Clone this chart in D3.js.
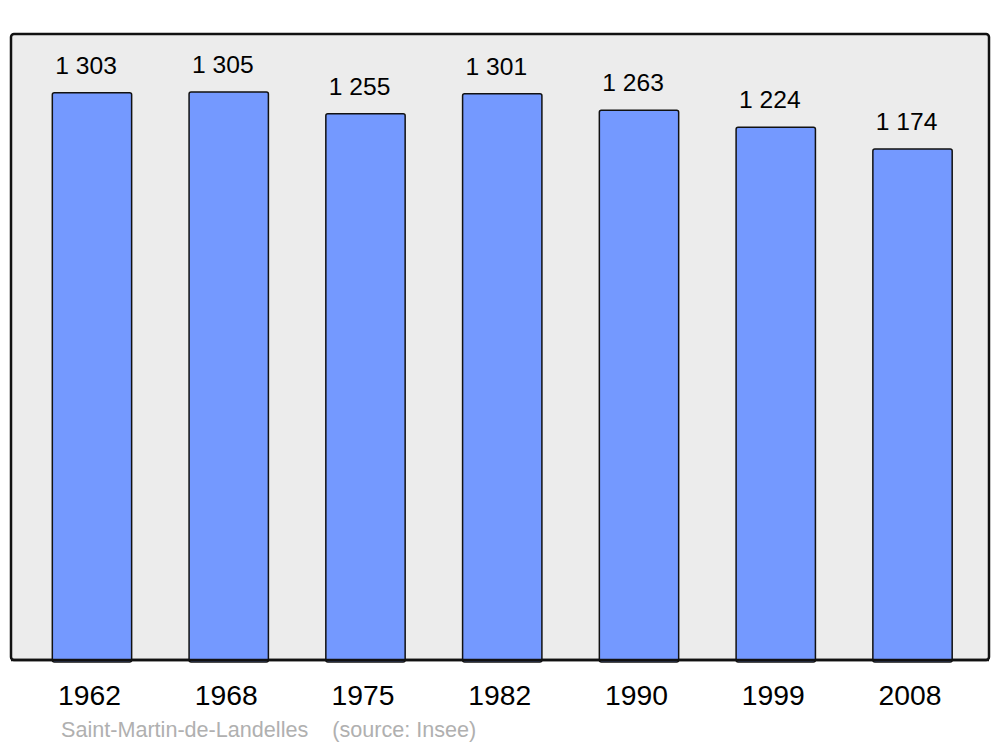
<!DOCTYPE html>
<html>
<head>
<meta charset="utf-8">
<script src="https://cdn.jsdelivr.net/npm/d3@7"></script>
<style>
  body { margin: 0; background: #fff; }
  svg { display: block; font-family: "Liberation Sans", Arial, sans-serif; }
</style>
</head>
<body>
<div id="chart-area"></div>
<script>
// Population data
const years = ["1962", "1968", "1975", "1982", "1990", "1999", "2008"];
const population = [1303, 1305, 1255, 1301, 1263, 1224, 1174];
const valueLabels = ["1 303", "1 305", "1 255", "1 301", "1 263", "1 224", "1 174"];
const footerText = "Saint-Martin-de-Landelles\u00a0\u00a0\u00a0\u00a0(source: Insee)";

const W = 1000, H = 747;
const panel = { left: 11, right: 989, top: 34, bottom: 660 };

const svg = d3.select("#chart-area").append("svg")
  .attr("width", W)
  .attr("height", H);

// Scales
const x = d3.scaleBand()
  .domain(years)
  .range([23.6, 980.9])
  .paddingInner(0.42)
  .paddingOuter(0.21);

const y = d3.scaleLinear()
  .domain([0, 1438])
  .range([panel.bottom, panel.top]);

// Background panel
svg.append("rect")
  .attr("x", panel.left)
  .attr("y", panel.top)
  .attr("width", panel.right - panel.left)
  .attr("height", panel.bottom - panel.top)
  .attr("rx", 3)
  .attr("fill", "#ececec")
  .attr("stroke", "#111")
  .attr("stroke-width", 2.5);

// Bars
svg.selectAll(".bar")
  .data(years)
  .enter().append("rect")
  .attr("class", "bar")
  .attr("x", d => x(d))
  .attr("y", (d, i) => y(population[i]))
  .attr("width", x.bandwidth())
  .attr("height", (d, i) => y(0) - y(population[i]) + 2)
  .attr("rx", 2)
  .attr("fill", "#7499ff")
  .attr("stroke", "#111")
  .attr("stroke-width", 1.5);

// redraw bottom border over bar ends
svg.append("line")
  .attr("x1", panel.left)
  .attr("x2", panel.right)
  .attr("y1", panel.bottom)
  .attr("y2", panel.bottom)
  .attr("stroke", "#111")
  .attr("stroke-width", 2.5);

// Value labels
svg.selectAll(".val")
  .data(years)
  .enter().append("text")
  .attr("class", "val")
  .attr("x", d => x(d) + 3)
  .attr("y", (d, i) => y(population[i]) - 19)
  .attr("font-size", 24.6)
  .attr("fill", "#000")
  .text((d, i) => valueLabels[i]);

// Year labels
svg.selectAll(".year")
  .data(years)
  .enter().append("text")
  .attr("class", "year")
  .attr("x", d => x(d) + x.bandwidth() / 2 - 2.5)
  .attr("y", 705)
  .attr("text-anchor", "middle")
  .attr("font-size", 28.3)
  .attr("fill", "#000")
  .text(d => d);

// Footer
svg.append("text")
  .attr("x", 61)
  .attr("y", 737)
  .attr("font-size", 21.6)
  .attr("fill", "#b0b0b0")
  .text(footerText);
</script>
</body>
</html>
